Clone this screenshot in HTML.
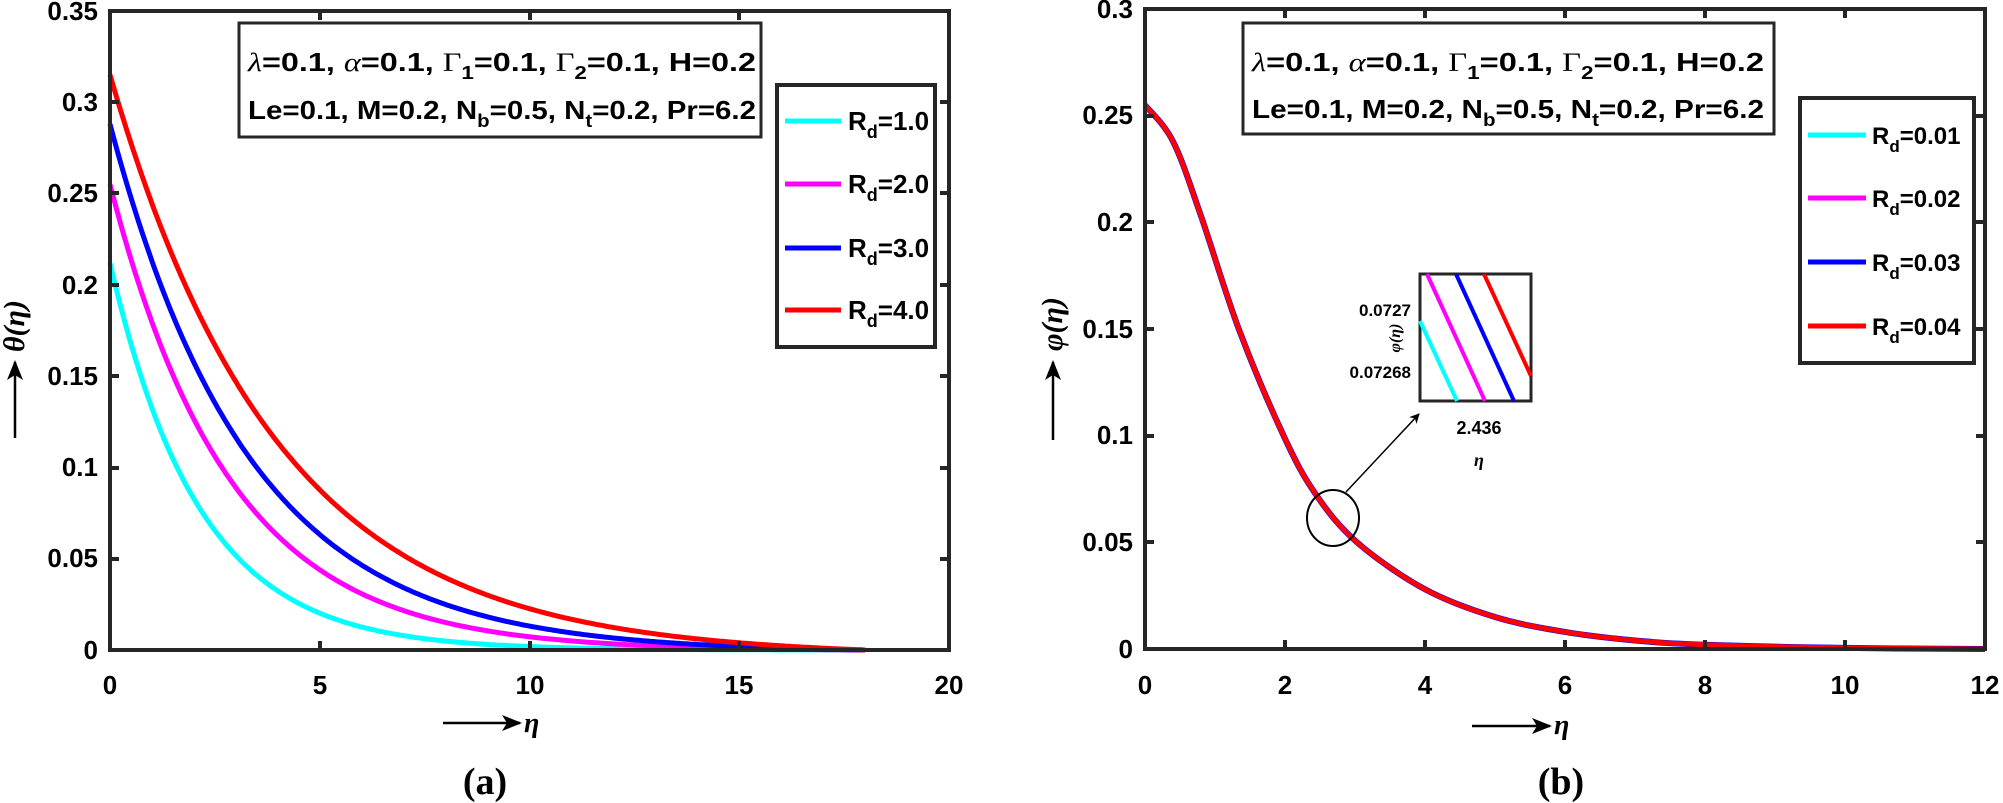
<!DOCTYPE html>
<html><head><meta charset="utf-8"><style>
body{margin:0;background:#fff}
svg{display:block}
text{font-family:"Liberation Sans",sans-serif;font-weight:bold;fill:#000}
.t{font-size:26px}
.g{font-family:"Liberation Serif",serif;font-weight:normal;font-style:italic}
.G{font-family:"Liberation Serif",serif;font-weight:normal;font-style:normal}
</style></head><body>
<svg id="s" width="2003" height="803" viewBox="0 0 2003 803" xmlns="http://www.w3.org/2000/svg">
<defs><marker id="ah" markerWidth="10" markerHeight="10" refX="9" refY="5" orient="auto" markerUnits="userSpaceOnUse"><path d="M0,0 L10,5 L0,10 L3,5Z" fill="#000"/></marker>
<marker id="ah2" markerWidth="20" markerHeight="16" refX="18" refY="8" orient="auto" markerUnits="userSpaceOnUse"><path d="M0,0 L20,8 L0,16 L5,8Z" fill="#000"/></marker></defs>
<g id="curves"></g>
<!-- left axes -->
<rect x="110" y="11" width="839" height="639" fill="none" stroke="#262626" stroke-width="4"/>
<g id="lt" stroke="#262626" stroke-width="4"></g>
<g class="t" text-anchor="end">
<text x="98" y="20">0.35</text><text x="98" y="111">0.3</text><text x="98" y="202">0.25</text><text x="98" y="294">0.2</text><text x="98" y="385">0.15</text><text x="98" y="476">0.1</text><text x="98" y="567">0.05</text><text x="98" y="659">0</text>
</g>
<g class="t" text-anchor="middle">
<text x="110" y="694">0</text><text x="320" y="694">5</text><text x="530" y="694">10</text><text x="739" y="694">15</text><text x="949" y="694">20</text>
</g>
<line x1="443" y1="723" x2="520" y2="723" stroke="#000" stroke-width="2.5" marker-end="url(#ah2)"/>
<text x="524" y="732" class="g" style="font-size:28px;font-weight:bold">η</text>
<text x="485" y="794" text-anchor="middle" style="font-family:'Liberation Serif',serif;font-size:38px;font-weight:bold">(a)</text>
<line x1="15" y1="438" x2="15" y2="362" stroke="#000" stroke-width="2.5" marker-end="url(#ah2)"/>
<text transform="translate(24,326) rotate(-90)" text-anchor="middle" class="g" style="font-size:30px;font-weight:bold">θ(η)</text>
<rect x="239" y="23" width="522" height="114" fill="#fff" stroke="#262626" stroke-width="3"/>
<text x="248" y="71" class="t" textLength="508" lengthAdjust="spacingAndGlyphs"><tspan class="g">λ</tspan>=0.1, <tspan class="g">α</tspan>=0.1, <tspan class="G">Γ</tspan><tspan dy="8" font-size="18">1</tspan><tspan dy="-8">=0.1, </tspan><tspan class="G">Γ</tspan><tspan dy="8" font-size="18">2</tspan><tspan dy="-8">=0.1, H=0.2</tspan></text>
<text x="248" y="119" class="t" textLength="508" lengthAdjust="spacingAndGlyphs">Le=0.1, M=0.2, N<tspan dy="8" font-size="18">b</tspan><tspan dy="-8">=0.5, N</tspan><tspan dy="8" font-size="18">t</tspan><tspan dy="-8">=0.2, Pr=6.2</tspan></text>
<rect x="777" y="85" width="158" height="262" fill="#fff" stroke="#262626" stroke-width="4"/>
<g stroke-width="5"><line x1="785" y1="121" x2="841" y2="121" stroke="#0ff"/><line x1="785" y1="184" x2="841" y2="184" stroke="#f0f"/><line x1="785" y1="248" x2="841" y2="248" stroke="#00f"/><line x1="785" y1="310" x2="841" y2="310" stroke="#f00"/></g>
<g class="t"><text x="848" y="130">R<tspan dy="8" font-size="18">d</tspan><tspan dy="-8">=1.0</tspan></text><text x="848" y="193">R<tspan dy="8" font-size="18">d</tspan><tspan dy="-8">=2.0</tspan></text><text x="848" y="257">R<tspan dy="8" font-size="18">d</tspan><tspan dy="-8">=3.0</tspan></text><text x="848" y="319">R<tspan dy="8" font-size="18">d</tspan><tspan dy="-8">=4.0</tspan></text></g>

<!-- right axes -->
<rect x="1145" y="9" width="840" height="640" fill="none" stroke="#262626" stroke-width="4"/>
<g id="rt" stroke="#262626" stroke-width="4"></g>
<g class="t" text-anchor="end">
<text x="1133" y="18">0.3</text><text x="1133" y="124">0.25</text><text x="1133" y="231">0.2</text><text x="1133" y="338">0.15</text><text x="1133" y="444">0.1</text><text x="1133" y="551">0.05</text><text x="1133" y="658">0</text>
</g>
<g class="t" text-anchor="middle">
<text x="1145" y="694">0</text><text x="1285" y="694">2</text><text x="1425" y="694">4</text><text x="1565" y="694">6</text><text x="1705" y="694">8</text><text x="1845" y="694">10</text><text x="1985" y="694">12</text>
</g>
<line x1="1472" y1="726" x2="1550" y2="726" stroke="#000" stroke-width="2.5" marker-end="url(#ah2)"/>
<text x="1554" y="734" class="g" style="font-size:28px;font-weight:bold">η</text>
<text x="1561" y="794" text-anchor="middle" style="font-family:'Liberation Serif',serif;font-size:38px;font-weight:bold">(b)</text>
<line x1="1053" y1="440" x2="1053" y2="362" stroke="#000" stroke-width="2.5" marker-end="url(#ah2)"/>
<text transform="translate(1062,324) rotate(-90)" text-anchor="middle" class="g" style="font-size:30px;font-weight:bold">φ(η)</text>
<rect x="1243" y="23" width="531" height="111" fill="#fff" stroke="#262626" stroke-width="3"/>
<text x="1252" y="71" class="t" textLength="512" lengthAdjust="spacingAndGlyphs"><tspan class="g">λ</tspan>=0.1, <tspan class="g">α</tspan>=0.1, <tspan class="G">Γ</tspan><tspan dy="8" font-size="18">1</tspan><tspan dy="-8">=0.1, </tspan><tspan class="G">Γ</tspan><tspan dy="8" font-size="18">2</tspan><tspan dy="-8">=0.1, H=0.2</tspan></text>
<text x="1252" y="118" class="t" textLength="512" lengthAdjust="spacingAndGlyphs">Le=0.1, M=0.2, N<tspan dy="8" font-size="18">b</tspan><tspan dy="-8">=0.5, N</tspan><tspan dy="8" font-size="18">t</tspan><tspan dy="-8">=0.2, Pr=6.2</tspan></text>
<rect x="1800" y="98" width="174" height="265" fill="#fff" stroke="#262626" stroke-width="4"/>
<g stroke-width="5"><line x1="1808" y1="135" x2="1866" y2="135" stroke="#0ff"/><line x1="1808" y1="198" x2="1866" y2="198" stroke="#f0f"/><line x1="1808" y1="262" x2="1866" y2="262" stroke="#00f"/><line x1="1808" y1="326" x2="1866" y2="326" stroke="#f00"/></g>
<g class="t" style="font-size:24px"><text x="1872" y="144">R<tspan dy="8" font-size="17">d</tspan><tspan dy="-8">=0.01</tspan></text><text x="1872" y="207">R<tspan dy="8" font-size="17">d</tspan><tspan dy="-8">=0.02</tspan></text><text x="1872" y="271">R<tspan dy="8" font-size="17">d</tspan><tspan dy="-8">=0.03</tspan></text><text x="1872" y="335">R<tspan dy="8" font-size="17">d</tspan><tspan dy="-8">=0.04</tspan></text></g>
<!-- inset -->
<rect x="1420" y="274" width="111" height="127" fill="#fff" stroke="#262626" stroke-width="3"/>
<g stroke-width="4">
<line x1="1420" y1="321" x2="1457" y2="401" stroke="#0ff"/>
<line x1="1427" y1="274" x2="1485" y2="401" stroke="#f0f"/>
<line x1="1456" y1="274" x2="1514" y2="401" stroke="#00f"/>
<line x1="1484" y1="274" x2="1531" y2="376" stroke="#f00"/>
</g>
<g style="font-size:17px" text-anchor="end"><text x="1411" y="316">0.0727</text><text x="1411" y="378">0.07268</text></g>
<text x="1479" y="434" text-anchor="middle" style="font-size:18px">2.436</text>
<text x="1474" y="466" class="g" style="font-size:18px;font-weight:bold">η</text>
<text transform="translate(1400,338) rotate(-90)" text-anchor="middle" class="g" style="font-size:16px;font-weight:bold">φ(η)</text>
<ellipse cx="1333" cy="518" rx="26" ry="28" fill="none" stroke="#000" stroke-width="2"/>
<line x1="1346" y1="492" x2="1419" y2="414" stroke="#000" stroke-width="1.5" marker-end="url(#ah)"/>
</svg>
<script>
var ns="http://www.w3.org/2000/svg",c=document.getElementById('curves');
function P(d,col,w){var p=document.createElementNS(ns,'path');p.setAttribute('d',d);p.setAttribute('fill','none');p.setAttribute('stroke',col);p.setAttribute('stroke-width',w);p.setAttribute('stroke-linejoin','round');c.appendChild(p);}
[[0.212,0.47,'#0ff'],[0.255,0.35,'#f0f'],[0.288,0.30,'#00f'],[0.315,0.25,'#f00']].forEach(function(a){
 var d='',E=Math.exp(-18*a[1]);for(var i=0;i<=360;i++){var e=i*0.05,v=a[0]*(Math.exp(-a[1]*e)-E)/(1-E);
 d+=(i?'L':'M')+(110+e*41.95).toFixed(1)+','+(650-v*1826).toFixed(1);}P(d,a[2],5);});
var pts=[[0,.255],[0.4,.238],[0.8,.203],[1.34,.15],[1.98,.1],[2.436,.0727],[3.03,.05],[4,.028],[5,.015],[6,.008],[7,.004],[8,.002],[10,.0005],[12,0]];
var q=pts.map(function(p){return[1145+p[0]*70,649-p[1]*2133]});
var d='M'+q[0];for(var i=0;i<q.length-1;i++){var p0=q[Math.max(i-1,0)],p1=q[i],p2=q[i+1],p3=q[Math.min(i+2,q.length-1)];
d+='C'+(p1[0]+(p2[0]-p0[0])/6)+','+(p1[1]+(p2[1]-p0[1])/6)+' '+(p2[0]-(p3[0]-p1[0])/6)+','+(p2[1]-(p3[1]-p1[1])/6)+' '+p2;}
P(d,'#00f',6);P(d,'#f00',5);
function ticks(g,xs,ys,x0,x1,y0,y1){g=document.getElementById(g);var h='';xs.forEach(function(x){h+='<line x1="'+x+'" y1="'+y1+'" x2="'+x+'" y2="'+(y1-9)+'"/><line x1="'+x+'" y1="'+y0+'" x2="'+x+'" y2="'+(y0+9)+'"/>'});
ys.forEach(function(y){h+='<line x1="'+x0+'" y1="'+y+'" x2="'+(x0+9)+'" y2="'+y+'"/><line x1="'+x1+'" y1="'+y+'" x2="'+(x1-9)+'" y2="'+y+'"/>'});g.innerHTML=h;}
ticks('lt',[320,530,739],[102,193,285,376,468,559],110,949,11,650);
ticks('rt',[1285,1425,1565,1705,1845],[116,222,329,436,542],1145,1985,9,649);
</script>
</body></html>
